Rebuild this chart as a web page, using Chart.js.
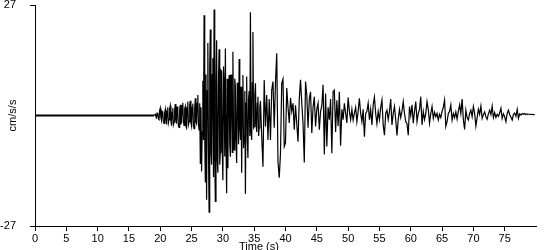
<!DOCTYPE html>
<html>
<head>
<meta charset="utf-8">
<script src="https://cdn.jsdelivr.net/npm/chart.js@4"></script>
<style>
  html, body { margin: 0; padding: 0; background: #fff; }
</style>
</head>
<body>
<canvas id="chart-accel" width="550" height="250"></canvas>
<script>
// Ground acceleration record (cm/s/s)
const quietTimes = [0, 19];
const quietValues = [0, 0];

// 19 s - 26 s, every 0.1 s
const preEvent = [0, 0.2, 0.3, -0.2, -0.4, 0.6, 0.5, -0.8, -1.0, 1.2,
    1.8, -0.5, -1.2, 1.0, 0.8, -1.5, -1.9, 0.6, 1.5, -1.0,
    -2.2, 1.0, 2.0, -1.8, -1.0, 1.6, 2.4, -1.2, -2.5, 0.8,
    1.8, -2.2, -1.6, 1.4, 2.8, -1.0, -2.0, 2.2, 1.2, -2.6,
    -2.9, 1.5, 2.6, -2.0, -1.8, 2.4, 3.1, -1.4, -2.4, 1.6,
    2.2, -2.6, -3.0, 1.8, 3.4, -2.2, -1.5, 2.6, 3.6, -1.8,
    -2.6, 2.0, 2.9, -2.4, -3.2, 1.8, 4.2, -1.6, -2.0, 3.0];
// 26 s - 36 s, every 0.1 s
const strongMotion = [5.0, -2, -3.5, 3, -11.7, 2, -13.7, -4, 8.5, -6,
    24.5, -5, -16.2, 10, -20.6, 6, 17.7, -8, -23.6, 12,
    21.0, -9, -12, 10, 14, -15, 25.9, -10, -21.0, 8,
    18.4, -11, -14, 9, 16.2, -12, -9, 11, 10.7, -8,
    -15.8, 12, 8, -10, 16.4, -7, -19.0, 9, -12.9, 6,
    9.9, -7, -10.1, 10, 6, -9, 15.6, -4, -8.4, 9,
    7, -6, -11.6, 8, 5, -7, 13.8, -3, -6, 7,
    -14.0, 4, 9.9, -8, -5, 6, -19.2, 3, 9.5, -6,
    -10.4, 4, 6, -5, 25.2, -4, -6, 8, 20.4, -3,
    -2.7, 5, 7.9, -2, -4, 3, 4.6, -5, -3, 2];
// 36 s onwards, every 0.2 s
const coda1 = [3.5, -5, -12.5, 8.7, -2.7, 5, -6, 4, -6, 6.2,
    8.3, -3, 8, 15.2, -11.3, -15.2, -9.2, 7.9, 8.9, -7.6,
    -6.7, 6.7, 2, -1.8, 4.3, 1, 3, -3.5, 2.5, -2,
    -6.4, 4, 8.7, 3, -2, -11.5, 8.3, 5, -3, 4,
    5.8, -4.3, 2, 4.6, -2.7];
const coda2 = [1.5, 3, -3.5, 1, 2.5, 7.5, -9.5, 5.4, -7.6, 2,
    -1, 4, -9.2, 5.8, 6.2, -4, 3.7, -2.6, 5.8, -7.4,
    1.5, -1, 3, 0.5, -1.8, 4.4, 1, -1, 1.5, -1.1,
    0.5, 2, -1.5, 1, 4.2, 0.5, -1.5, 1.5, -5.2, 0.5,
    1, 3, -1, 1.5, -2.3, 2.6, 4.5, 0.5, -2, 1];
const coda3 = [-1, 2, 3.8, -2.3, -4.8, 0.5, 1.3, -1, 1, 4,
    -2.3, 0.5, 2.2, -1, -4.9, -1, 1.5, -0.5, 1, 3.4,
    0.5, -1.5, -2, -4.8, 2.2, 0, 2.6, -1.9, 1, 3.4,
    -1.5, 0.5, 1.5, 4.6, -2.3, 1, -1, 0.5, 3.4, 1.5,
    -1.9, 0.5, 2.2, -0.7, 0.8, -0.3, 0.5, -1.1, 0.3, -0.5,
    1, 2, 3.8, -2.7, -1.5, 0.5, 1, 2.6, -1.1, 0.5];
const coda4 = [-0.5, 0.9, -0.9, 1, 2.6, 0.5, 4, -1, -3.4, 1.3,
    -0.5, -1.1, 0.5, 1.3, -0.3, 2.2, 0.5, -2.6, -0.5, 1.5,
    0.3, 2.3, -0.7, 0.2, 0.9, -0.3, -0.9, 0.4, 1.3, 0.2,
    2.3, -0.5, 0.7, -0.5, 0.3, -0.2, 0.6, 1.8, -0.7, 0.4,
    -0.3, -1.5, 0.5, 1.3, 0.2, -0.4, -1.1, 0.3, 0.6, -0.2,
    1.5, -0.7, 0.4, 0.1, 0.5, 0.3, 0.5, 0.2, 0.4, 0.3,
    0.3, 0.2, 0.3, 0.2, 0.2];

const segments = [
    { start: 19, step: 0.1, values: preEvent },
    { start: 26, step: 0.1, values: strongMotion },
    { start: 36, step: 0.2, values: coda1.concat(coda2, coda3, coda4) }
];

const xTicks = [0, 5, 10, 15, 20, 25, 30, 35, 40, 45, 50, 55, 60, 65, 70, 75];
const yTicks = [-27, 27];
const xMax = 80;

const quietPoints = quietTimes.map((t, i) => ({ x: t, y: quietValues[i] }));
const points = [];
segments.forEach(seg => {
    seg.values.forEach((v, i) => {
        points.push({ x: +(seg.start + i * seg.step).toFixed(2), y: v });
    });
});

const FONT = "'Liberation Sans', Arial, sans-serif";

// x axis title sits a little left of the plot centre in the original
const xTitlePlugin = {
    id: 'xTitle',
    afterDraw(chart) {
        const ctx = chart.ctx;
        const area = chart.chartArea;
        ctx.save();
        ctx.font = "11px " + FONT;
        ctx.fillStyle = "#000";
        ctx.textAlign = "center";
        ctx.textBaseline = "alphabetic";
        ctx.fillText("Time (s)", area.left + area.width * 0.447, 250);
        ctx.restore();
    }
};

const ctxAccel = document.getElementById("chart-accel").getContext("2d");
new Chart(ctxAccel, {
    type: "line",
    data: {
        datasets: [{
            label: "Quiet",
            data: quietPoints,
            borderColor: "#000",
            borderWidth: 2,
            pointRadius: 0,
            tension: 0,
            fill: false
        }, {
            label: "Acceleration",
            data: points,
            borderColor: "#000",
            borderWidth: 1.2,
            pointRadius: 0,
            tension: 0,
            fill: false
        }]
    },
    options: {
        responsive: false,
        animation: false,
        layout: { padding: { top: 5, right: 14, left: 0, bottom: 0 } },
        plugins: {
            legend: { display: false },
            tooltip: { enabled: false }
        },
        scales: {
            x: {
                type: "linear",
                min: 0,
                max: xMax,
                afterBuildTicks: (scale) => { scale.ticks = xTicks.map(v => ({ value: v })); },
                afterFit: (scale) => { scale.height = 24; },
                grid: { display: true, drawOnChartArea: false, drawTicks: true, tickLength: 5, color: "#000" },
                border: { display: true, color: "#000" },
                ticks: { color: "#000", font: { family: FONT, size: 11 }, padding: 1, maxRotation: 0, autoSkip: false }
            },
            y: {
                type: "linear",
                min: -27,
                max: 27,
                afterBuildTicks: (scale) => { scale.ticks = yTicks.map(v => ({ value: v })); },
                afterFit: (scale) => {
                    scale.width = 35;
                    scale.paddingTop = 0;
                    scale.paddingBottom = 0;
                },
                grid: { display: true, drawOnChartArea: false, drawTicks: true, tickLength: 5, color: "#000" },
                border: { display: true, color: "#000" },
                ticks: { color: "#000", font: { family: FONT, size: 11 }, padding: 14 },
                title: { display: true, text: "cm/s/s", color: "#000", font: { family: FONT, size: 11 }, padding: { top: 6, bottom: 0 } }
            }
        }
    },
    plugins: [xTitlePlugin]
});
</script>
</body>
</html>
